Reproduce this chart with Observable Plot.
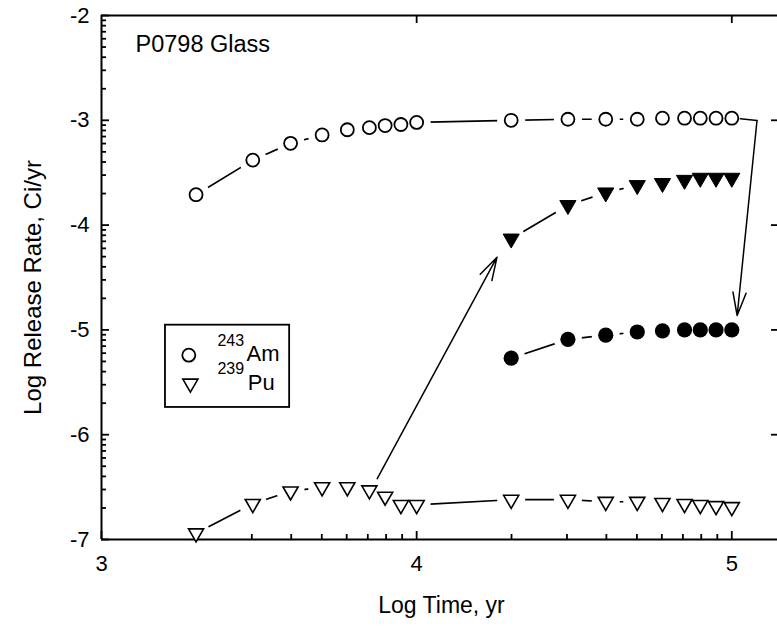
<!DOCTYPE html>
<html><head><meta charset="utf-8">
<script src="https://cdn.jsdelivr.net/npm/d3@7"></script>
<script src="https://cdn.jsdelivr.net/npm/@observablehq/plot@0.6"></script>
<style>
body{margin:0;background:#fff}
svg{font-family:"Liberation Sans",Arial,sans-serif}
</style>
</head><body><div id="chart"></div>
<script>
// ---- data ----
const logTime = [3.30,3.48,3.60,3.70,3.78,3.85,3.90,3.95,4.00,4.30,4.48,4.60,4.70,4.78,4.85,4.90,4.95,5.00];
const am243 = [-3.71,-3.38,-3.22,-3.14,-3.09,-3.07,-3.05,-3.04,-3.02,-3.00,-2.99,-2.99,-2.99,-2.98,-2.98,-2.98,-2.98,-2.98];
const pu239 = [-6.94,-6.66,-6.54,-6.50,-6.50,-6.53,-6.59,-6.67,-6.67,-6.62,-6.62,-6.64,-6.64,-6.65,-6.66,-6.67,-6.68,-6.69];
const logTimeLate = [4.30,4.48,4.60,4.70,4.78,4.85,4.90,4.95,5.00];
const pu239Filled = [-4.13,-3.81,-3.69,-3.62,-3.60,-3.57,-3.55,-3.55,-3.55];
const am243Filled = [-5.27,-5.09,-5.05,-5.02,-5.01,-5.00,-5.00,-5.00,-5.00];

const xMajorTicks = [3,4,5];
const xMinorTicks = [3.301,3.477,3.602,3.699,3.778,3.845,3.903,3.954,4.301,4.477,4.602,4.699,4.778,4.845,4.903,4.954];
const yMajorTicks = [-7,-6,-5,-4,-3,-2];
const yMinorTicks = [
  -6.699,-6.523,-6.398,-6.301,-6.222,-6.155,-6.097,-6.046,
  -5.699,-5.523,-5.398,-5.301,-5.222,-5.155,-5.097,-5.046,
  -4.699,-4.523,-4.398,-4.301,-4.222,-4.155,-4.097,-4.046,
  -3.699,-3.523,-3.398,-3.301,-3.222,-3.155,-3.097,-3.046,
  -2.699,-2.523,-2.398,-2.301,-2.222,-2.155,-2.097,-2.046];
const rightTicks = [-6,-5,-4,-3];
const topTicks = [4,5];

const titleText = "P0798 Glass";
const xLabel = "Log Time, yr";
const yLabel = "Log Release Rate, Ci/yr";

// annotation arrows (data coordinates)
const arrowStarts = [{x1:3.875,y1:-6.42,x2:4.255,y2:-4.306},{x1:5.080,y1:-3.002,x2:5.017,y2:-4.863}];
const arrowLead = [{x:5.027,y:-2.986},{x:5.080,y:-3.002}];

// legend (data coordinates)
const legendBox = [{x1:3.203,x2:3.597,y1:-4.955,y2:-5.740}];
const legendCircle = [{x:3.277,y:-5.241}];
const legendTriangle = [{x:3.282,y:-5.511}];
const legendIso = [{x:3.368,y:-5.100,t:"243"},{x:3.368,y:-5.370,t:"239"}];
const legendEl = [{x:3.460,y:-5.228,t:"Am"},{x:3.464,y:-5.505,t:"Pu"}];

// ---- build ----
const X0 = 3, X1 = 5.145, Y0 = -7, Y1 = -2;
const W = 777, H = 627, ML = 101, MR = 0, MT = 15, MB = 88;
const pxX = (X1 - X0) / (W - ML - MR);   // data units per pixel (x)
const pxY = (Y1 - Y0) / (H - MT - MB);   // data units per pixel (y)

const toRows = (xs, ys) => xs.map((x, i) => ({x, y: ys[i]}));
const amRows = toRows(logTime, am243);
const puRows = toRows(logTime, pu239);
const puFRows = toRows(logTimeLate, pu239Filled);
const amFRows = toRows(logTimeLate, am243Filled);
const allRows = [...amRows, ...puRows, ...puFRows, ...amFRows];

const triangleDown = {
  draw(ctx, size) {
    const y = Math.sqrt(size / (3 * Math.sqrt(3)));
    ctx.moveTo(0, 2 * y);
    ctx.lineTo(-Math.sqrt(3) * y, -y);
    ctx.lineTo(Math.sqrt(3) * y, -y);
    ctx.closePath();
  }
};

const lineOpts = {x: "x", y: "y", stroke: "black", strokeWidth: 1.7};
const tk = {stroke: "black", strokeWidth: 1.8};

const chart = Plot.plot({
  width: W, height: H,
  marginLeft: ML, marginRight: MR, marginTop: MT, marginBottom: MB,
  style: {fontFamily: "Liberation Sans, Arial, sans-serif", fontSize: "22px", background: "white"},
  x: {domain: [X0, X1], axis: null},
  y: {domain: [Y0, Y1], axis: null},
  marks: [
    Plot.line(amRows, lineOpts),
    Plot.line(puRows, lineOpts),
    Plot.line(puFRows, lineOpts),
    Plot.line(amFRows, lineOpts),
    Plot.dot(allRows, {x: "x", y: "y", r: 14, fill: "white"}),
    // frame
    Plot.ruleY([Y0, Y1], {stroke: "black", strokeWidth: 2}),
    Plot.ruleX([X0], {stroke: "black", strokeWidth: 2}),
    // tick labels
    Plot.axisX({anchor: "bottom", ticks: xMajorTicks, tickSize: 0, tickPadding: 16, fontSize: 22, label: null, tickFormat: d => String(d)}),
    Plot.axisY({anchor: "left", ticks: yMajorTicks, tickSize: 0, tickPadding: 12, fontSize: 22, label: null, tickFormat: d => String(d)}),
    // inward ticks
    Plot.ruleX(xMajorTicks, {x: d => d, y1: Y0, y2: Y0 + 8 * pxY, ...tk}),
    Plot.ruleX(xMinorTicks, {x: d => d, y1: Y0, y2: Y0 + 5 * pxY, ...tk}),
    Plot.ruleX(topTicks, {x: d => d, y1: Y1, y2: Y1 - 8 * pxY, ...tk}),
    Plot.ruleY(yMajorTicks, {y: d => d, x1: X0, x2: X0 + 8 * pxX, ...tk}),
    Plot.ruleY(yMinorTicks, {y: d => d, x1: X0, x2: X0 + 5 * pxX, ...tk}),
    Plot.ruleY(rightTicks, {y: d => d, x1: X1 - 6 * pxX, x2: X1, ...tk}),
    // arrows
    Plot.line(arrowLead, {x: "x", y: "y", stroke: "black", strokeWidth: 1.5}),
    Plot.arrow(arrowStarts, {x1: "x1", y1: "y1", x2: "x2", y2: "y2", stroke: "black", strokeWidth: 1.5, headLength: 24, headAngle: 32}),
    // markers
    Plot.dot(amRows, {x: "x", y: "y", r: 6.5, fill: "white", stroke: "black", strokeWidth: 1.8}),
    Plot.dot(puRows, {x: "x", y: "y", symbol: triangleDown, r: 5.6, fill: "white", stroke: "black", strokeWidth: 1.6}),
    Plot.dot(puFRows, {x: "x", y: "y", symbol: triangleDown, r: 6, fill: "black", stroke: "black", strokeWidth: 1}),
    Plot.dot(amFRows, {x: "x", y: "y", r: 7.6, fill: "black"}),
    // legend
    Plot.rect(legendBox, {x1: "x1", x2: "x2", y1: "y1", y2: "y2", fill: "white", stroke: "black", strokeWidth: 1.8}),
    Plot.dot(legendCircle, {x: "x", y: "y", r: 6.5, fill: "white", stroke: "black", strokeWidth: 1.8}),
    Plot.dot(legendTriangle, {x: "x", y: "y", symbol: triangleDown, r: 5.6, fill: "white", stroke: "black", strokeWidth: 1.6}),
    Plot.text(legendIso, {x: "x", y: "y", text: "t", textAnchor: "start", fontSize: 16, fill: "black"}),
    Plot.text(legendEl, {x: "x", y: "y", text: "t", textAnchor: "start", fontSize: 22, fill: "black"}),
    // title and axis labels
    Plot.text([titleText], {frameAnchor: "top-left", dx: 34, dy: 20, textAnchor: "start", fontSize: 23.5, fill: "black"}),
    Plot.text([xLabel], {frameAnchor: "bottom", dx: 2, dy: 73, fontSize: 23, fill: "black"}),
    Plot.text([yLabel], {frameAnchor: "left", textAnchor: "middle", dx: -68, dy: 10, rotate: -90, fontSize: 24, fill: "black"})
  ]
});
document.getElementById("chart").appendChild(chart);
</script>
</body></html>
